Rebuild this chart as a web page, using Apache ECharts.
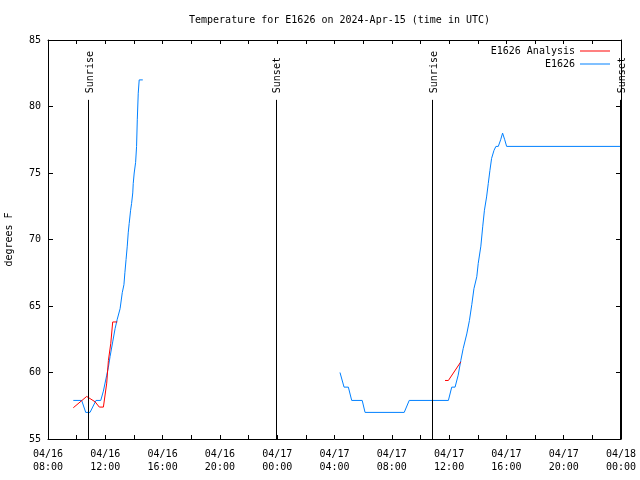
<!DOCTYPE html>
<html><head><meta charset="utf-8">
<script src="https://cdn.jsdelivr.net/npm/echarts@6/dist/echarts.min.js"></script>
<style>html,body{margin:0;padding:0;background:#fff}#c{width:640px;height:480px}</style>
</head><body><div id="c"></div>
<script>
// ---- data ----
const titleText = 'Temperature for E1626 on 2024-Apr-15 (time in UTC)';
const yAxisName = 'degrees F';
const seriesNames = ['E1626 Analysis', 'E1626'];

const obsTimes = [
 '2024-04-16 09:46','2024-04-16 10:21','2024-04-16 10:38','2024-04-16 10:56','2024-04-16 11:21','2024-04-16 11:41',
 '2024-04-16 11:52','2024-04-16 12:06','2024-04-16 12:13','2024-04-16 12:20','2024-04-16 12:31','2024-04-16 12:41',
 '2024-04-16 12:50','2024-04-16 13:02','2024-04-16 13:11','2024-04-16 13:18','2024-04-16 13:22','2024-04-16 13:27',
 '2024-04-16 13:32','2024-04-16 13:36','2024-04-16 13:40','2024-04-16 13:46','2024-04-16 13:50','2024-04-16 13:55',
 '2024-04-16 13:57','2024-04-16 14:01','2024-04-16 14:07','2024-04-16 14:11','2024-04-16 14:14','2024-04-16 14:18',
 '2024-04-16 14:22','2024-04-16 14:37', null,
 '2024-04-17 04:23','2024-04-17 04:40','2024-04-17 04:58','2024-04-17 05:12','2024-04-17 05:56','2024-04-17 06:08',
 '2024-04-17 08:52','2024-04-17 09:13','2024-04-17 11:57','2024-04-17 12:11','2024-04-17 12:25','2024-04-17 12:38',
 '2024-04-17 12:49','2024-04-17 12:59','2024-04-17 13:14','2024-04-17 13:25','2024-04-17 13:35','2024-04-17 13:44',
 '2024-04-17 13:56','2024-04-17 14:02','2024-04-17 14:13','2024-04-17 14:21','2024-04-17 14:28','2024-04-17 14:37',
 '2024-04-17 14:44','2024-04-17 14:51','2024-04-17 14:58','2024-04-17 15:08','2024-04-17 15:16','2024-04-17 15:26',
 '2024-04-17 15:36','2024-04-17 15:44','2024-04-17 15:53','2024-04-17 16:01','2024-04-18 00:00'
];
const obsValues = [
 57.9,57.9,57.0,57.0,57.9,57.9,
 58.6,59.8,60.4,61.2,62.3,63.3,
 64.0,64.8,66.0,66.6,67.5,68.5,
 69.5,70.5,71.2,72.2,72.7,73.5,
 74.2,75.0,75.8,77.0,79.0,81.0,
 82.0,82.0, null,
 60.0,58.9,58.9,57.9,57.9,57.0,
 57.0,57.9,57.9,58.9,58.9,59.8,
 60.9,61.8,62.9,63.9,65.1,66.3,
 67.2,68.2,69.5,71.0,72.2,73.2,
 74.2,75.2,76.1,76.7,77.0,77.0,
 77.5,78.0,77.5,77.0,77.0
];

const anaTimes = [
 '2024-04-16 09:46','2024-04-16 10:42','2024-04-16 11:17','2024-04-16 11:35','2024-04-16 11:52',
 '2024-04-16 12:06','2024-04-16 12:13','2024-04-16 12:23','2024-04-16 12:31','2024-04-16 12:50', null,
 '2024-04-17 11:43','2024-04-17 11:57','2024-04-17 12:49'
];
const anaValues = [57.35,58.2,57.8,57.4,57.4,59.2,60.9,62.2,63.8,63.8,null,59.4,59.4,60.8];

const sunNames = ['Sunrise','Sunset','Sunrise','Sunset'];
const sunTimes = ['2024-04-16 10:50','2024-04-16 23:54','2024-04-17 10:49','2024-04-17 23:58'];

const xTickValues = [8,12,16,20,24,28,32,36,40,44,48];
const xTickLabels = ['04/16\n08:00','04/16\n12:00','04/16\n16:00','04/16\n20:00','04/17\n00:00','04/17\n04:00',
                     '04/17\n08:00','04/17\n12:00','04/17\n16:00','04/17\n20:00','04/18\n00:00'];

// ---- helpers ----
const base = Date.parse('2024-04-16T00:00:00Z');
function hrs(s){ return (Date.parse(s.replace(' ','T')+':00Z') - base)/3600000; }
function pairs(ts, vs){ return ts.map((t,i)=> t===null ? [null,null] : [hrs(t), vs[i]]); }

const FONT = 'DejaVu Sans Mono';
const sunTop = 80.5;
const chart = echarts.init(document.getElementById('c'), null, {renderer:'canvas'});
const axisCommon = {
  min: 8, max: 48, interval: 2, type: 'value',
  axisLine: {show:true, onZero:false, lineStyle:{color:'#000', width:1}},
  axisTick: {show:true, inside:true, length:4, lineStyle:{color:'#000'}},
  splitLine: {show:false}
};
chart.setOption({
  animation: false,
  backgroundColor: '#fff',
  title: {text: titleText, left: 184, top: 10,
          textStyle:{fontFamily:FONT, fontSize:10, fontWeight:'normal', color:'#000'}},
  grid: {left:48, right:19, top:40, bottom:41, show:false, containLabel:false, outerBoundsMode:'none'},
  legend: {
    data: seriesNames, orient:'vertical', right: 30, top: 46, padding: 0,
    align: 'right', itemGap: 3, itemWidth: 30, itemHeight: 1, icon: 'rect',
    textStyle: {fontFamily:FONT, fontSize:10, color:'#000'}
  },
  xAxis: [
    Object.assign({}, axisCommon, {position:'bottom',
      axisLabel:{show:true, margin:9, fontFamily:FONT, fontSize:10, color:'#000', lineHeight:13,
        formatter: v => { const i = xTickValues.indexOf(v); return i>=0 ? xTickLabels[i] : ''; }}}),
    Object.assign({}, axisCommon, {position:'top', axisLabel:{show:false}})
  ],
  yAxis: [
    {type:'value', min:55, max:85, interval:5, position:'left',
     name: yAxisName, nameLocation:'middle', nameGap:34, nameRotate:90,
     nameTextStyle:{fontFamily:FONT, fontSize:10, color:'#000'},
     axisLine:{show:true, lineStyle:{color:'#000'}},
     axisTick:{show:true, inside:true, length:5, lineStyle:{color:'#000'}},
     axisLabel:{fontFamily:FONT, fontSize:10, color:'#000', margin:7},
     splitLine:{show:false}},
    {type:'value', min:55, max:85, interval:5, position:'right',
     axisLine:{show:true, lineStyle:{color:'#000'}},
     axisTick:{show:true, inside:true, length:5, lineStyle:{color:'#000'}},
     axisLabel:{show:false}, splitLine:{show:false}}
  ],
  series: [
    {name: seriesNames[0], type:'line', data: pairs(anaTimes, anaValues), showSymbol:false, symbol:'none',
     connectNulls:false, color:'#ff0000', lineStyle:{color:'#ff0000', width:1}, z:3},
    {name: seriesNames[1], type:'line', data: pairs(obsTimes, obsValues), showSymbol:false, symbol:'none',
     connectNulls:false, color:'#0080ff', lineStyle:{color:'#0080ff', width:1}, z:2},
    {name:'sun', type:'scatter', symbol:'circle', symbolSize:0, itemStyle:{color:'rgba(0,0,0,0)'}, clip:false, silent:true,
     data: sunTimes.map((t,i)=>({value:[hrs(t), 81.0], name: sunNames[i]})),
     label:{show:true, formatter: p => p.name, rotate:90, position:'inside', align:'left', verticalAlign:'middle',
            offset:[0,2], fontFamily:FONT, fontSize:10, color:'#000', textBorderWidth:0, opacity:1},
     markLine:{silent:true, symbol:'none', label:{show:false}, lineStyle:{color:'#000', width:1, type:'solid'},
       data: sunTimes.map(t=>[{coord:[hrs(t),55]},{coord:[hrs(t),sunTop]}])}}
  ]
});
</script></body></html>
